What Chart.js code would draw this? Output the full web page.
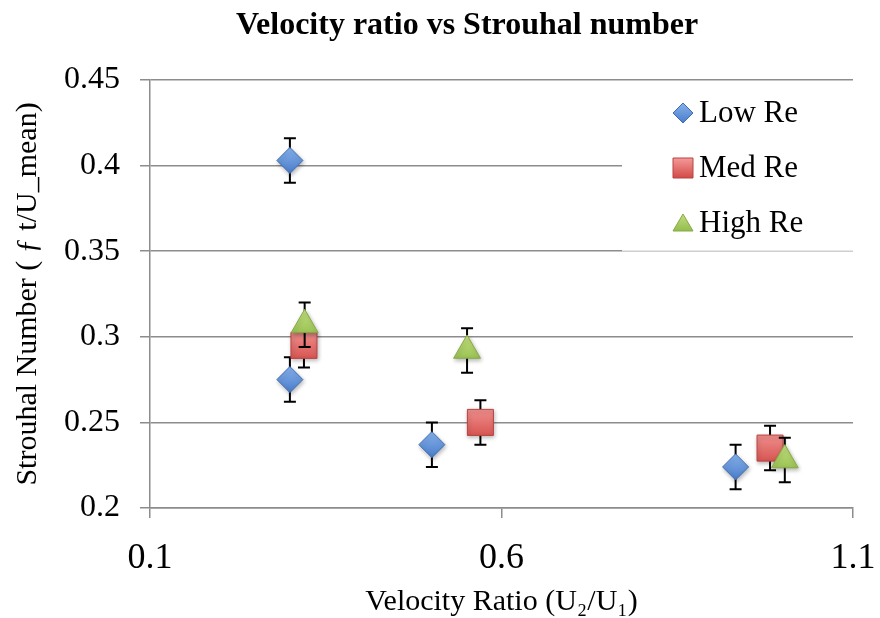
<!DOCTYPE html>
<html>
<head>
<meta charset="utf-8">
<script src="https://cdn.jsdelivr.net/npm/chart.js@4.4.1/dist/chart.umd.min.js"></script>
<style>
  html, body { margin: 0; padding: 0; background: #ffffff; }
  #wrap { width: 880px; height: 618px; position: relative; }
</style>
</head>
<body>
<div id="wrap"><canvas id="chart"></canvas></div>
<script>
// ---- Data ----
const chartTitle = 'Velocity ratio vs Strouhal number';
const xAxisTitle = 'Velocity Ratio (U\u2082/U\u2081)';
const yAxisTitle = 'Strouhal Number ( \u0192 t/U_mean)';

const seriesNames = ['Low Re', 'Med Re', 'High Re'];

const lowReX  = [0.299, 0.299, 0.501, 0.933];
const lowReY  = [0.403, 0.275, 0.237, 0.224];
const lowReErr = [0.013, 0.013, 0.013, 0.013];

const medReX  = [0.319, 0.570, 0.982];
const medReY  = [0.295, 0.250, 0.235];
const medReErr = [0.013, 0.013, 0.013];

const highReX = [0.320, 0.551, 1.003];
const highReY = [0.307, 0.292, 0.228];
const highReErr = [0.013, 0.013, 0.013];

const xTicks = [0.1, 0.6, 1.1];
const xTickLabels = ['0.1', '0.6', '1.1'];
const yTicks = [0.2, 0.25, 0.3, 0.35, 0.4, 0.45];
const yTickLabels = ['0.2', '0.25', '0.3', '0.35', '0.4', '0.45'];

// ---- Styling ----
const SERIF = "'Liberation Serif', 'Times New Roman', serif";
const GRID = '#8c8c8c';
const palette = [
  { top: '#86b2ee', bottom: '#4a7cc8', border: '#3f6db3', style: 'rectRot', radius: 13 },
  { top: '#f49a98', bottom: '#d24a47', border: '#b94340', style: 'rect', radius: 18.4 },
  { top: '#c2e07e', bottom: '#8fb948', border: '#86aa45', style: 'triangle', radius: 15.5 }
];

function pts(xs, ys) { return xs.map((x, i) => ({ x: x, y: ys[i] })); }

function gradFill(p) {
  return function (ctx) {
    const chart = ctx.chart;
    if (ctx.type !== 'data' || !chart.scales || !chart.scales.y || !ctx.raw) return p.bottom;
    const yp = chart.scales.y.getPixelForValue(ctx.raw.y);
    if (!isFinite(yp)) return p.bottom;
    const r = p.radius;
    const g = chart.ctx.createLinearGradient(0, yp - r, 0, yp + r);
    g.addColorStop(0, p.top);
    g.addColorStop(1, p.bottom);
    return g;
  };
}

const errors = [lowReErr, medReErr, highReErr];

function makeDataset(i, xs, ys, order) {
  const p = palette[i];
  return {
    label: seriesNames[i],
    data: pts(xs, ys),
    showLine: false,
    pointStyle: p.style,
    pointRadius: p.radius,
    pointHoverRadius: p.radius,
    pointBackgroundColor: gradFill(p),
    pointBorderColor: p.border,
    pointBorderWidth: 1,
    backgroundColor: p.bottom,
    borderColor: p.border,
    order: order
  };
}

// error bars + soft marker shadow
const errorBarPlugin = {
  id: 'errorBars',
  beforeDatasetDraw(chart, args) {
    const ctx = chart.ctx;
    const idx = args.index;
    const ds = chart.data.datasets[idx];
    const err = errors[idx];
    const xs = chart.scales.x, ys = chart.scales.y;
    ctx.save();
    ctx.strokeStyle = '#000000';
    ctx.lineWidth = 2;
    ds.data.forEach((d, j) => {
      const px = xs.getPixelForValue(d.x);
      const top = ys.getPixelForValue(d.y + err[j]);
      const bot = ys.getPixelForValue(d.y - err[j]);
      ctx.beginPath();
      ctx.moveTo(px, top); ctx.lineTo(px, bot);
      ctx.moveTo(px - 6, top); ctx.lineTo(px + 6, top);
      ctx.moveTo(px - 6, bot); ctx.lineTo(px + 6, bot);
      ctx.stroke();
    });
    ctx.restore();
    ctx.save();
    ctx.shadowColor = 'rgba(0,0,0,0.28)';
    ctx.shadowBlur = 4;
    ctx.shadowOffsetX = 1;
    ctx.shadowOffsetY = 2;
  },
  afterDatasetDraw(chart) {
    chart.ctx.restore();
  }
};

// title centred like the reference
const titlePlugin = {
  id: 'customTitle',
  afterDraw(chart) {
    const ctx = chart.ctx;
    ctx.save();
    ctx.font = 'bold 32px ' + SERIF;
    ctx.fillStyle = '#000';
    ctx.textAlign = 'center';
    ctx.textBaseline = 'middle';
    ctx.fillText(chartTitle, 467, 26);
    ctx.restore();
  }
};

function drawMarker(ctx, style, x, y, s, p) {
  const g = ctx.createLinearGradient(0, y - s, 0, y + s);
  g.addColorStop(0, p.top);
  g.addColorStop(1, p.bottom);
  ctx.beginPath();
  if (style === 'rectRot') {
    ctx.moveTo(x, y - s); ctx.lineTo(x + s, y); ctx.lineTo(x, y + s); ctx.lineTo(x - s, y);
  } else if (style === 'rect') {
    ctx.rect(x - s, y - s, 2 * s, 2 * s);
  } else {
    ctx.moveTo(x, y - s * 0.9); ctx.lineTo(x + s, y + s * 0.8); ctx.lineTo(x - s, y + s * 0.8);
  }
  ctx.closePath();
  ctx.fillStyle = g;
  ctx.fill();
  ctx.lineWidth = 1;
  ctx.strokeStyle = p.border;
  ctx.stroke();
}

// legend drawn inside the plot, top-right, on a white box
const legendPlugin = {
  id: 'insideLegend',
  afterDatasetsDraw(chart) {
    const ctx = chart.ctx;
    const ca = chart.chartArea;
    const ys = chart.scales.y;
    const left = ca.right - 231;
    const top = ca.top + 1;
    const y035 = ys.getPixelForValue(0.35);
    ctx.save();
    ctx.fillStyle = '#ffffff';
    ctx.fillRect(left, top, ca.right - left + 2, y035 + 1 - top);
    ctx.strokeStyle = '#cfcfcf';
    ctx.lineWidth = 1.5;
    ctx.beginPath();
    ctx.moveTo(left, y035); ctx.lineTo(ca.right, y035);
    ctx.stroke();
    const mx = left + 61;
    const rows = [top + 32, top + 87, top + 142];
    ctx.font = '31px ' + SERIF;
    ctx.textAlign = 'left';
    ctx.textBaseline = 'middle';
    seriesNames.forEach((name, i) => {
      drawMarker(ctx, palette[i].style, mx, rows[i], 10, palette[i]);
      ctx.fillStyle = '#000';
      ctx.fillText(name, mx + 16, rows[i] + 1);
    });
    ctx.restore();
  }
};

new Chart(document.getElementById('chart'), {
  type: 'scatter',
  data: {
    datasets: [
      makeDataset(0, lowReX, lowReY, 3),
      makeDataset(1, medReX, medReY, 2),
      makeDataset(2, highReX, highReY, 1)
    ]
  },
  plugins: [errorBarPlugin, legendPlugin, titlePlugin],
  options: {
    responsive: true,
    maintainAspectRatio: false,
    animation: false,
    events: [],
    layout: { padding: { top: 80, left: 6, right: 27, bottom: 0 } },
    plugins: {
      legend: { display: false },
      title: { display: false },
      tooltip: { enabled: false }
    },
    scales: {
      x: {
        type: 'linear',
        min: 0.1,
        max: 1.1,
        afterBuildTicks: (axis) => { axis.ticks = xTicks.map(v => ({ value: v })); },
        afterFit: (scale) => { scale.height = 110; scale.paddingLeft = 0; scale.paddingRight = 0; },
        ticks: {
          callback: (v, i) => xTickLabels[i],
          font: { family: SERIF, size: 36 },
          color: '#000',
          padding: 19,
          maxRotation: 0
        },
        grid: { drawOnChartArea: false, drawTicks: true, tickLength: 10, color: GRID, lineWidth: 1.5 },
        border: { display: true, color: GRID, width: 1.5 },
        title: {
          display: true,
          text: xAxisTitle,
          font: { family: SERIF, size: 30 },
          color: '#000',
          padding: { top: 0, bottom: -2 }
        }
      },
      y: {
        type: 'linear',
        min: 0.2,
        max: 0.45,
        afterBuildTicks: (axis) => { axis.ticks = yTicks.map(v => ({ value: v })); },
        afterFit: (scale) => { scale.width = 144; scale.paddingTop = 0; scale.paddingBottom = 0; },
        ticks: {
          callback: (v, i) => yTickLabels[i],
          font: { family: SERIF, size: 32 },
          color: '#000',
          padding: 20
        },
        grid: { drawOnChartArea: true, drawTicks: true, tickLength: 10, color: GRID, lineWidth: 1.5 },
        border: { display: true, color: GRID, width: 1.5 },
        title: {
          display: true,
          text: yAxisTitle,
          font: { family: SERIF, size: 30 },
          color: '#000',
          padding: { top: 4, bottom: 4 }
        }
      }
    }
  }
});
</script>
</body>
</html>
